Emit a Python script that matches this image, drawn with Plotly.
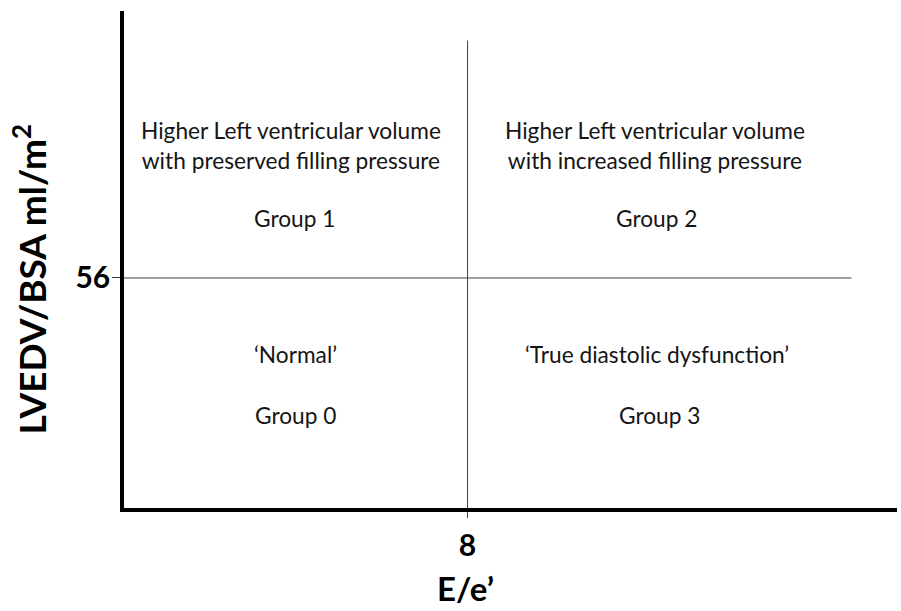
import plotly.graph_objects as go

# Cut-off values
x_cut = 8
y_cut = 56
x_range = [0, 18]
y_range = [0, 121]

# Divider lines
vline_x = [x_cut, x_cut]
vline_y = [0, 113.8]
hline_x = [0, 16.94]
hline_y = [y_cut, y_cut]

x_tick_vals = [8]
x_tick_text = ["8"]
y_tick_vals = [56]
y_tick_text = ["56"]

x_title = "E/e\u2019"
y_title = "LVEDV/BSA ml/m<sup>2</sup>"

# Quadrant labels
label_texts = [
    "Higher Left ventricular volume<br>with preserved filling pressure",
    "Group 1",
    "Higher Left ventricular volume<br>with increased filling pressure",
    "Group 2",
    "\u2018Normal\u2019",
    "Group 0",
    "\u2018True diastolic dysfunction\u2019",
    "Group 3",
]
label_x = [3.88, 3.965, 12.37, 12.41, 4.0, 4.0, 12.42, 12.47]
label_y = [88.3, 70.6, 88.3, 70.6, 37.3, 22.5, 37.3, 22.5]

FONT = "Lato, 'Open Sans', sans-serif"
LINE_COLOR = "#404040"

fig = go.Figure()
fig.add_trace(go.Scatter(x=vline_x, y=vline_y, mode="lines",
                         line=dict(color=LINE_COLOR, width=1), hoverinfo="skip",
                         showlegend=False))
fig.add_trace(go.Scatter(x=hline_x, y=hline_y, mode="lines",
                         line=dict(color=LINE_COLOR, width=1), hoverinfo="skip",
                         showlegend=False))

for t, x, y in zip(label_texts, label_x, label_y):
    fig.add_annotation(x=x, y=y, xref="x", yref="y", text=t, showarrow=False,
                       font=dict(family=FONT, size=22.7, color="#151515"),
                       align="center", xanchor="center", yanchor="middle")

# Axis titles
fig.add_annotation(x=7.95, xref="x", y=-0.1616, yref="paper", text=x_title,
                   showarrow=False, yanchor="middle", xanchor="center",
                   font=dict(family=FONT, size=33, color="black", weight="bold"))
fig.add_annotation(x=-0.1221, xref="paper", y=0.461, yref="paper", text=y_title,
                   showarrow=False, textangle=-90, xanchor="center", yanchor="middle",
                   font=dict(family=FONT, size=37, color="black", weight="bold"))

fig.update_layout(
    width=901, height=611,
    margin=dict(l=123.5, r=3.5, t=10.5, b=102.5),
    plot_bgcolor="white", paper_bgcolor="white",
    showlegend=False,
    xaxis=dict(range=x_range, showgrid=False, zeroline=False, automargin=False,
               showline=True, linecolor="black", linewidth=3.5,
               tickvals=x_tick_vals, ticktext=x_tick_text,
               ticks="outside", ticklen=6, tickwidth=1, tickcolor=LINE_COLOR,
               ticklabelstandoff=2,
               tickfont=dict(family=FONT, size=30, color="black", weight="bold")),
    yaxis=dict(range=y_range, showgrid=False, zeroline=False, automargin=False,
               showline=True, linecolor="black", linewidth=3.5,
               tickvals=y_tick_vals, ticktext=y_tick_text,
               ticks="outside", ticklen=8, tickwidth=1, tickcolor=LINE_COLOR,
               ticklabelstandoff=-4,
               tickfont=dict(family=FONT, size=30, color="black", weight="bold")),
)

fig.write_html(
    "out.html",
    config={"displayModeBar": False},
    post_script=(
        "document.body.style.margin='0';"
        "document.body.style.overflow='hidden';"
        "document.documentElement.style.overflow='hidden';"
    ),
)
